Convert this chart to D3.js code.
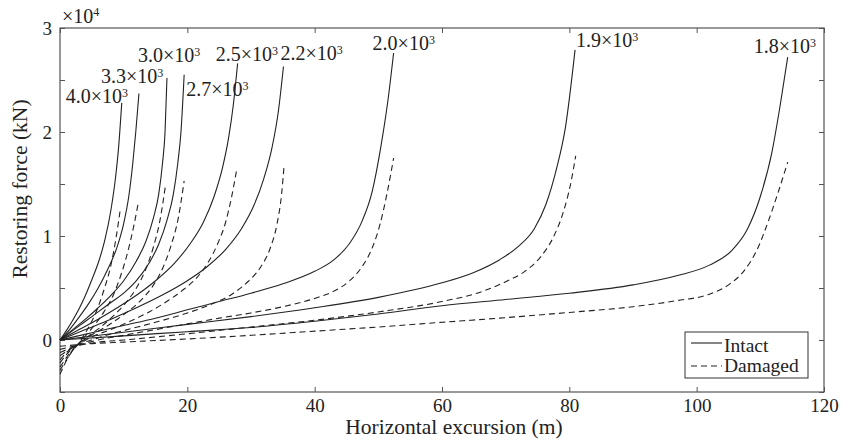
<!DOCTYPE html>
<html>
<head>
<meta charset="utf-8">
<script src="https://cdn.jsdelivr.net/npm/d3@7"></script>
<style>
  body { margin: 0; background: #fff; }
  svg text { font-family: "Liberation Serif", "Times New Roman", serif; fill: #222; }
</style>
</head>
<body>
<div id="chart"></div>
<script>
// pretension of each mooring case (kN), printed as label
const cases = ["4.0", "3.3", "3.0", "2.7", "2.5", "2.2", "2.0", "1.9", "1.8"];

// intact restoring force curves, [excursion m, force x1e4 kN]
const intact40 = [[0,0],[1,0.09],[2,0.19],[3,0.3],[4,0.43],[5,0.58],[6,0.74],[7,0.95],[8,1.25],[8.7,1.55],[9.2,1.85],[9.7,2.28]];
const intact33 = [[0,0],[1.5,0.1],[3,0.22],[4.5,0.35],[6,0.5],[7.5,0.68],[9,0.9],[10,1.12],[10.8,1.38],[11.4,1.68],[11.9,2.0],[12.4,2.37]];
const intact30 = [[0,0],[2,0.1],[4,0.2],[6,0.31],[8,0.43],[10,0.57],[12,0.76],[13.5,0.95],[14.7,1.18],[15.5,1.4],[16.1,1.7],[16.5,2.0],[16.8,2.52]];
const intact27 = [[0,0],[2,0.09],[4,0.18],[6,0.27],[8,0.36],[10,0.45],[12,0.57],[14,0.74],[15.5,0.92],[16.8,1.15],[17.8,1.4],[18.5,1.7],[19.0,2.0],[19.5,2.55]];
const intact25 = [[0,0],[3,0.1],[6,0.2],[9,0.31],[12,0.43],[15,0.57],[18,0.74],[20.5,0.93],[22.5,1.13],[24.2,1.38],[25.5,1.65],[26.5,1.95],[27.2,2.25],[27.9,2.66]];
const intact22 = [[0,0],[4,0.1],[8,0.2],[12,0.31],[16,0.43],[20,0.57],[23,0.7],[26,0.87],[28.5,1.07],[30.5,1.3],[32,1.55],[33.3,1.85],[34.3,2.2],[35.1,2.63]];
const intact20 = [[0,0],[5,0.07],[10,0.14],[15,0.21],[20,0.29],[25,0.37],[30,0.45],[35,0.54],[40,0.66],[43,0.77],[45.5,0.93],[47.5,1.15],[49,1.42],[50.4,1.86],[51.5,2.3],[52.4,2.76]];
const intact19 = [[0,0],[10,0.075],[20,0.15],[30,0.225],[40,0.31],[50,0.41],[60,0.55],[65,0.65],[69,0.77],[72,0.9],[74.5,1.07],[76.3,1.3],[78,1.65],[79.4,2.05],[80.9,2.79]];
const intact18 = [[0,0],[10,0.04],[20,0.08],[30,0.12],[40,0.18],[50,0.25],[60,0.33],[70,0.39],[80,0.45],[90,0.53],[97,0.62],[102,0.72],[105.5,0.86],[108,1.07],[110,1.38],[111.8,1.8],[113.1,2.25],[114.3,2.72]];

// damaged (one line broken) curves
const damaged40 = [[0,-0.33],[1,-0.2],[2,-0.1],[3,-0.03],[4,0.07],[5,0.18],[6,0.32],[7,0.5],[8,0.72],[8.8,0.98],[9.5,1.27]];
const damaged33 = [[0,-0.29],[1,-0.19],[2,-0.1],[3,-0.03],[4,0.04],[5.5,0.15],[7,0.28],[8.5,0.45],[9.7,0.65],[10.7,0.86],[11.5,1.07],[12.3,1.32]];
const damaged30 = [[0,-0.26],[1,-0.17],[2,-0.09],[3,-0.03],[4.5,0.04],[6.5,0.13],[8.5,0.24],[10.5,0.37],[12,0.5],[13.4,0.67],[14.6,0.88],[15.7,1.15],[16.6,1.5]];
const damaged27 = [[0,-0.22],[1,-0.14],[2,-0.08],[3.5,-0.01],[5,0.05],[7,0.12],[9,0.2],[11,0.29],[13,0.4],[14.7,0.53],[16.2,0.7],[17.4,0.9],[18.6,1.18],[19.5,1.53]];
const damaged25 = [[0,-0.19],[1,-0.12],[2,-0.07],[3.5,-0.02],[5,0.03],[8,0.1],[11,0.18],[14,0.27],[17,0.38],[19.5,0.49],[21.5,0.6],[23.3,0.75],[24.8,0.93],[26,1.13],[26.9,1.36],[27.7,1.62]];
const damaged22 = [[0,-0.15],[1.5,-0.09],[3,-0.04],[5,0.0],[7,0.04],[10,0.09],[15,0.17],[20,0.26],[24,0.35],[27,0.44],[29.5,0.56],[31.5,0.7],[33,0.88],[34.1,1.12],[34.8,1.4],[35.2,1.68]];
const damaged20 = [[0,-0.12],[2,-0.07],[4,-0.03],[6,0.0],[10,0.045],[15,0.1],[20,0.155],[25,0.21],[30,0.26],[35,0.32],[40,0.4],[43,0.47],[45.5,0.57],[47.5,0.71],[49,0.88],[50.3,1.12],[51.4,1.42],[52.4,1.75]];
const damaged19 = [[0,-0.09],[3,-0.05],[6,-0.02],[10,0.0],[20,0.06],[30,0.125],[40,0.19],[50,0.27],[60,0.37],[66,0.46],[70,0.56],[73,0.66],[75.5,0.8],[77.5,0.99],[79,1.22],[80.2,1.5],[81,1.77]];
const damaged18 = [[0,-0.06],[5,-0.035],[10,-0.02],[20,0.01],[30,0.045],[40,0.085],[50,0.125],[60,0.17],[70,0.215],[80,0.265],[90,0.32],[97,0.38],[102,0.44],[105,0.53],[107.5,0.67],[109.5,0.87],[111.3,1.15],[112.8,1.42],[114.3,1.71]];

const intactSeries = [intact40, intact33, intact30, intact27, intact25, intact22, intact20, intact19, intact18];
const damagedSeries = [damaged40, damaged33, damaged30, damaged27, damaged25, damaged22, damaged20, damaged19, damaged18];

const xTicks = [0, 20, 40, 60, 80, 100, 120];
const yTicks = [-0.5, 0, 0.5, 1, 1.5, 2, 2.5, 3];

// label nudges (px) from the top of each intact curve
const labelShift = [[-56,0],[-38,-11],[-29,-16],[2,21],[-22,-2],[-3,-6],[-21,-3],[1,-3],[-34,-4]];

const width = 845, height = 443;
const margin = { top: 28, right: 21, bottom: 51, left: 60 };

const svg = d3.select("#chart").append("svg")
  .attr("width", width)
  .attr("height", height);

const x = d3.scaleLinear().domain([0, 120]).range([margin.left, width - margin.right]);
const y = d3.scaleLinear().domain([-0.5, 3]).range([height - margin.bottom, margin.top]);

const axisColor = "#555";
const fs = 20;

// axes, ticks pointing inwards
const gx = svg.append("g")
  .attr("transform", `translate(0,${y(-0.5)})`)
  .call(d3.axisBottom(x).tickValues(xTicks).tickSize(-5).tickPadding(7));
const gxTop = svg.append("g")
  .attr("transform", `translate(0,${y(3)})`)
  .call(d3.axisTop(x).tickValues(xTicks).tickSize(-5).tickFormat(""));
const gy = svg.append("g")
  .attr("transform", `translate(${x(0)},0)`)
  .call(d3.axisLeft(y).tickValues(yTicks).tickSize(-5).tickPadding(8)
    .tickFormat(d => Number.isInteger(d) ? d : ""));
const gyRight = svg.append("g")
  .attr("transform", `translate(${x(120)},0)`)
  .call(d3.axisRight(y).tickValues(yTicks).tickSize(-5).tickFormat(""));

[gx, gxTop, gy, gyRight].forEach(g => {
  g.select(".domain").remove();
  g.selectAll(".tick line").attr("stroke", axisColor);
  g.selectAll("text")
    .style("font-family", "Liberation Serif")
    .style("font-size", "19px")
    .attr("fill", "#222");
});

svg.append("rect")
  .attr("x", x(0))
  .attr("y", y(3))
  .attr("width", x(120) - x(0))
  .attr("height", y(-0.5) - y(3))
  .attr("fill", "none")
  .attr("stroke", axisColor)
  .attr("stroke-width", 1.2);

const line = d3.line()
  .x(d => x(d[0]))
  .y(d => y(d[1]))
  .curve(d3.curveMonotoneX);

svg.append("g").selectAll("path")
  .data(damagedSeries)
  .enter().append("path")
    .attr("d", line)
    .attr("fill", "none")
    .attr("stroke", "#222")
    .attr("stroke-width", 1.1)
    .attr("stroke-dasharray", "6,4");

svg.append("g").selectAll("path")
  .data(intactSeries)
  .enter().append("path")
    .attr("d", line)
    .attr("fill", "none")
    .attr("stroke", "#222")
    .attr("stroke-width", 1.1);

// curve labels like 4.0x10^3
const labels = svg.append("g");
cases.forEach((c, i) => {
  const top = intactSeries[i][intactSeries[i].length - 1];
  const t = labels.append("text")
    .attr("x", x(top[0]) + labelShift[i][0])
    .attr("y", y(top[1]) + labelShift[i][1])
    .style("font-size", fs + "px");
  t.append("tspan").text(c + "\u00d710");
  t.append("tspan").text("3").attr("dy", -6).style("font-size", "12px");
});

// exponent above the y axis
const ex = svg.append("text")
  .attr("x", x(0) + 2)
  .attr("y", 23)
  .style("font-size", fs + "px");
ex.append("tspan").text("\u00d710");
ex.append("tspan").text("4").attr("dy", -7).style("font-size", "12px");

svg.append("text")
  .attr("x", 454)
  .attr("y", 434)
  .attr("text-anchor", "middle")
  .style("font-size", "21.5px")
  .text("Horizontal excursion (m)");

svg.append("text")
  .attr("transform", "translate(27,189) rotate(-90)")
  .attr("text-anchor", "middle")
  .style("font-size", "21.5px")
  .text("Restoring force (kN)");

// legend
const lg = svg.append("g").attr("transform", "translate(685,332)");
lg.append("rect")
  .attr("width", 123)
  .attr("height", 46)
  .attr("fill", "#fff")
  .attr("stroke", "#333");
[["Intact", null], ["Damaged", "6,4"]].forEach((d, i) => {
  lg.append("line")
    .attr("x1", 6).attr("x2", 37)
    .attr("y1", 11 + i * 23).attr("y2", 11 + i * 23)
    .attr("stroke", "#222")
    .attr("stroke-width", 1.1)
    .attr("stroke-dasharray", d[1]);
  lg.append("text")
    .attr("x", 39)
    .attr("y", 20 + i * 20)
    .style("font-size", "19.5px")
    .text(d[0]);
});
</script>
</body>
</html>
